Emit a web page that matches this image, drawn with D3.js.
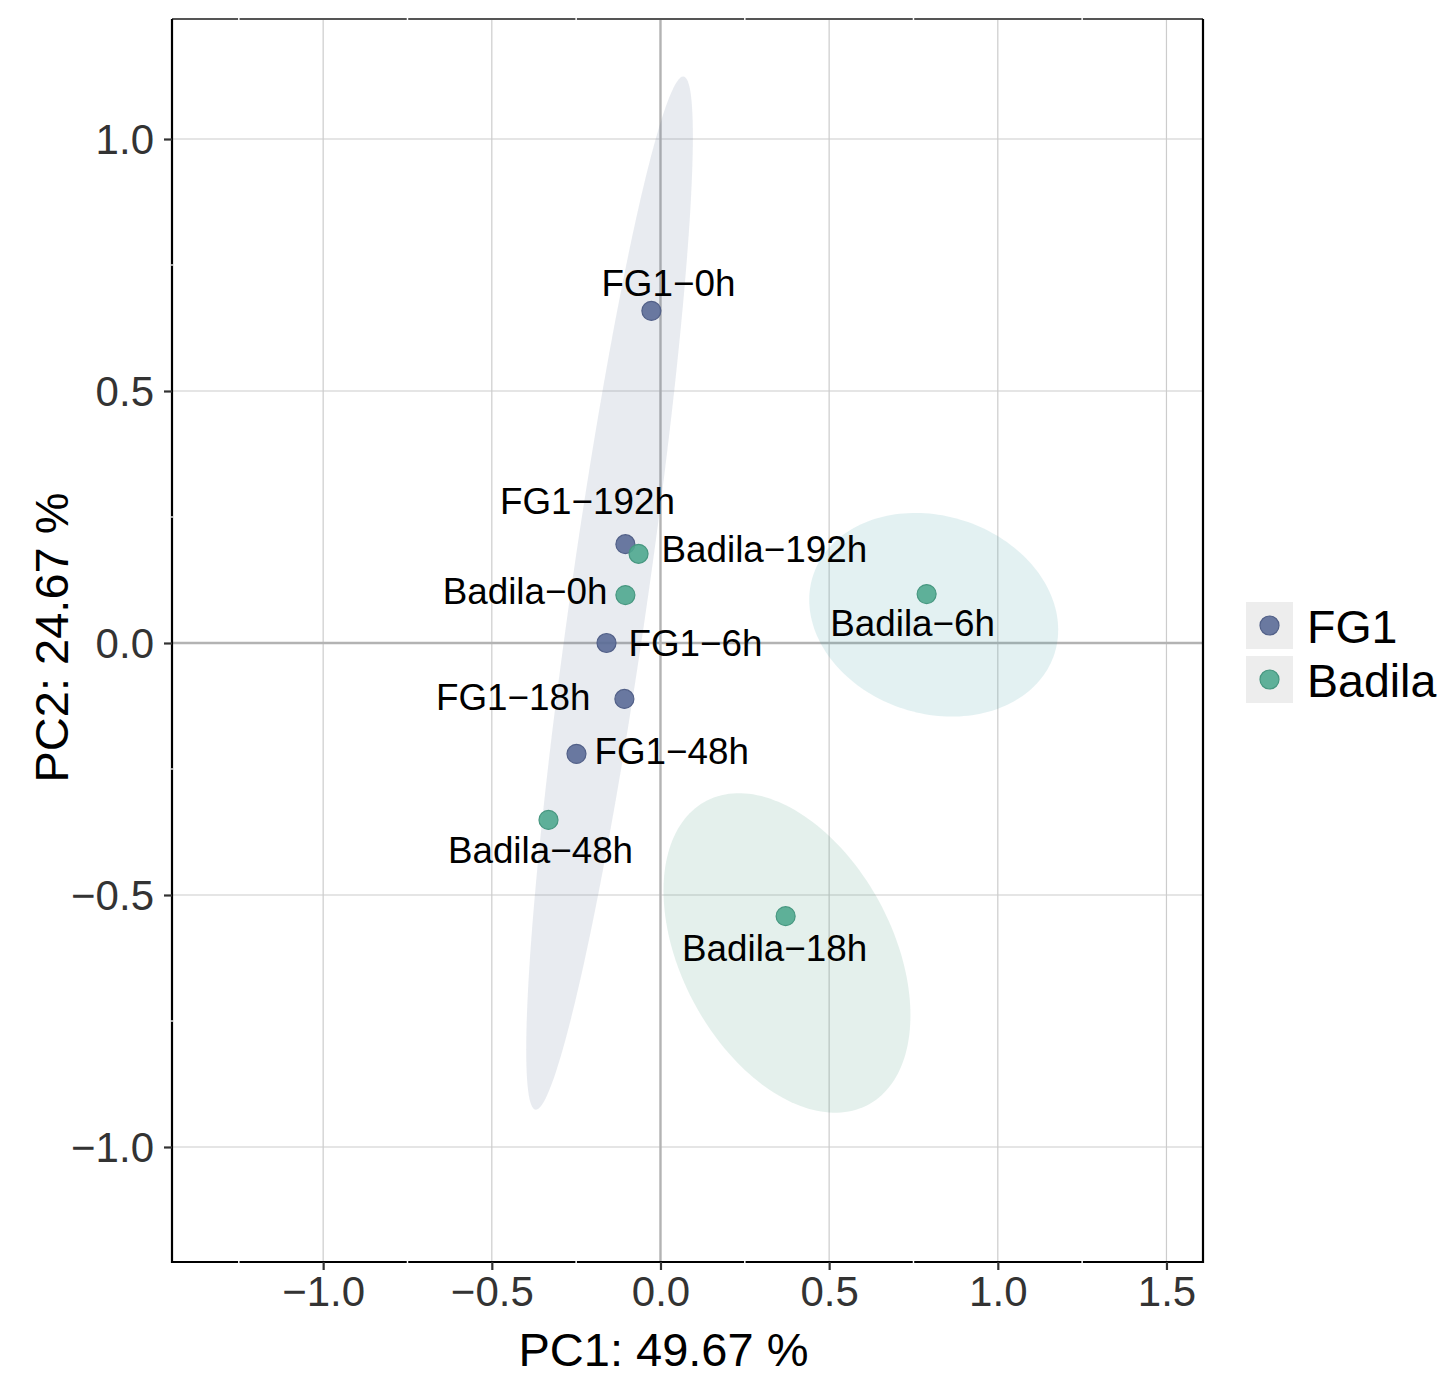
<!DOCTYPE html>
<html>
<head>
<meta charset="utf-8">
<script src="https://cdn.jsdelivr.net/npm/d3@7"></script>
<style>
  body { margin: 0; background: #fff; }
  svg { font-family: "Liberation Sans", Arial, Helvetica, sans-serif; }
</style>
</head>
<body>
<div id="chart"></div>
<script>
// samples and their PCA scores
const samples = ["FG1-0h", "FG1-192h", "FG1-6h", "FG1-18h", "FG1-48h",
                 "Badila-0h", "Badila-192h", "Badila-6h", "Badila-18h", "Badila-48h"];
const groups = ["FG1", "FG1", "FG1", "FG1", "FG1",
                "Badila", "Badila", "Badila", "Badila", "Badila"];
const pc1 = [-0.027, -0.104, -0.160, -0.107, -0.249, -0.104, -0.065, 0.789, 0.371, -0.332];
const pc2 = [0.659, 0.196, 0.000, -0.111, -0.220, 0.095, 0.177, 0.097, -0.542, -0.351];

const groupNames = ["FG1", "Badila"];
const xTicks = [-1.0, -0.5, 0.0, 0.5, 1.0, 1.5];
const yTicks = [-1.0, -0.5, 0.0, 0.5, 1.0];
const xMinor = [-1.25, -0.75, -0.25, 0.25, 0.75, 1.25];
const yMinor = [-0.75, -0.25, 0.25, 0.75];

// confidence ellipses: centre, half extents along PC1 / PC2 and correlation
const ellipseCx = [-0.151, 0.810, 0.375];
const ellipseCy = [0.099, 0.056, -0.615];
const ellipseSx = [0.247, 0.369, 0.366];
const ellipseSy = [1.025, 0.202, 0.317];
const ellipseR = [0.884, -0.147, -0.39];

const xTitle = "PC1: 49.67 %";
const yTitle = "PC2: 24.67 %";

const W = 1449, H = 1375;
const margin = {left: 172, right: 247, top: 19, bottom: 113};

const colors = {FG1: "#5b6b97", Badila: "#4fa88f"};
const ellipseFill = ["#667a9b", "#44a2a8", "#4b9b80"];

// where ggrepel put the labels, relative to the point
const labelPlace = [
  {anchor: "middle", dx: 17, dy: -15},
  {anchor: "middle", dx: -38, dy: -30},
  {anchor: "start", dx: 22, dy: 13},
  {anchor: "end", dx: -34, dy: 11},
  {anchor: "start", dx: 18, dy: 10},
  {anchor: "end", dx: -18, dy: 9},
  {anchor: "start", dx: 23, dy: 8},
  {anchor: "middle", dx: -14, dy: 42},
  {anchor: "middle", dx: -11, dy: 45},
  {anchor: "middle", dx: -8, dy: 43}
];

const x = d3.scaleLinear().domain([-1.4481, 1.6083]).range([margin.left, W - margin.right + 1]);
const y = d3.scaleLinear().domain([-1.2282, 1.2381]).range([H - margin.bottom, margin.top]);

const svg = d3.select("#chart").append("svg")
  .attr("width", W)
  .attr("height", H);

const x0 = x.range()[0], x1 = x.range()[1];
const y0 = y.range()[1], y1 = y.range()[0];

// grid
svg.append("g").selectAll("line")
  .data(xTicks.filter(d => d !== 0))
  .enter().append("line")
  .attr("x1", d => x(d)).attr("x2", d => x(d))
  .attr("y1", y0).attr("y2", y1)
  .attr("stroke", "#cccccc").attr("stroke-width", 1.2);

svg.append("g").selectAll("line")
  .data(yTicks.filter(d => d !== 0))
  .enter().append("line")
  .attr("y1", d => y(d)).attr("y2", d => y(d))
  .attr("x1", x0).attr("x2", x1)
  .attr("stroke", "#cccccc").attr("stroke-width", 1.2);

// zero lines
svg.append("line")
  .attr("x1", x(0)).attr("x2", x(0)).attr("y1", y0).attr("y2", y1)
  .attr("stroke", "#b3b3b3").attr("stroke-width", 2.4);
svg.append("line")
  .attr("y1", y(0)).attr("y2", y(0)).attr("x1", x0).attr("x2", x1)
  .attr("stroke", "#b3b3b3").attr("stroke-width", 2.4);

// ellipses
const ellipseLine = d3.line()
  .x(d => x(d[0]))
  .y(d => y(d[1]))
  .curve(d3.curveLinearClosed);

ellipseCx.forEach((cx, i) => {
  const pts = d3.range(0, 2 * Math.PI, Math.PI / 90).map(t => [
    cx + ellipseSx[i] * Math.cos(t),
    ellipseCy[i] + ellipseSy[i] * (ellipseR[i] * Math.cos(t) + Math.sqrt(1 - ellipseR[i] * ellipseR[i]) * Math.sin(t))
  ]);
  svg.append("path")
    .attr("d", ellipseLine(pts))
    .attr("fill", ellipseFill[i])
    .attr("fill-opacity", 0.15);
});

// points
const pointData = samples.map((s, i) => ({name: s, group: groups[i], x: pc1[i], y: pc2[i], place: labelPlace[i]}));

svg.append("g").selectAll("circle")
  .data(pointData)
  .enter().append("circle")
  .attr("cx", d => x(d.x))
  .attr("cy", d => y(d.y))
  .attr("r", 9.5)
  .attr("fill", d => colors[d.group])
  .attr("fill-opacity", 0.9)
  .attr("stroke", d => d3.color(colors[d.group]).darker(0.3))
  .attr("stroke-width", 1.2);

svg.append("g").selectAll("text")
  .data(pointData)
  .enter().append("text")
  .attr("x", d => x(d.x) + d.place.dx)
  .attr("y", d => y(d.y) + d.place.dy)
  .attr("text-anchor", d => d.place.anchor)
  .attr("font-size", 36.8)
  .attr("fill", "#000")
  .text(d => d.name.replace("-", "\u2212"));

// panel border
svg.append("line").attr("x1", x0).attr("x2", x1).attr("y1", y0).attr("y2", y0)
  .attr("stroke", "#555").attr("stroke-width", 2.2);
svg.append("rect")
  .attr("x", x0).attr("y", y0)
  .attr("width", x1 - x0).attr("height", y1 - y0)
  .attr("fill", "none")
  .attr("stroke", "#000").attr("stroke-width", 2.2)
  .attr("stroke-dasharray", `0 ${x1 - x0} ${(y1 - y0) + (x1 - x0) + (y1 - y0)}`);

// little white minor breaks on the border
svg.append("g").selectAll("line")
  .data(xMinor)
  .enter().append("line")
  .attr("x1", d => x(d)).attr("x2", d => x(d))
  .attr("y1", y0 - 1).attr("y2", y0 + 1)
  .attr("stroke", "#fff").attr("stroke-width", 1.5);
svg.append("g").selectAll("line")
  .data(xMinor)
  .enter().append("line")
  .attr("x1", d => x(d)).attr("x2", d => x(d))
  .attr("y1", y1 - 1).attr("y2", y1 + 1)
  .attr("stroke", "#fff").attr("stroke-width", 1.5);
svg.append("g").selectAll("line")
  .data(yMinor)
  .enter().append("line")
  .attr("y1", d => y(d)).attr("y2", d => y(d))
  .attr("x1", x0 - 1).attr("x2", x0 + 1)
  .attr("stroke", "#ddd").attr("stroke-width", 1.5);

// axes
const xAxis = svg.append("g")
  .attr("transform", `translate(0,${y1})`)
  .call(d3.axisBottom(x).tickValues(xTicks).tickFormat(d3.format(".1f")).tickSize(8).tickSizeOuter(0).tickPadding(6));
const yAxis = svg.append("g")
  .attr("transform", `translate(${x0},0)`)
  .call(d3.axisLeft(y).tickValues(yTicks).tickFormat(d3.format(".1f")).tickSize(8).tickSizeOuter(0).tickPadding(10));

[xAxis, yAxis].forEach(ax => {
  ax.select(".domain").remove();
  ax.selectAll(".tick line").attr("stroke", "#333").attr("stroke-width", 2.2);
  ax.selectAll(".tick text")
    .attr("font-size", 42)
    .attr("fill", "#333")
    .attr("font-family", "Liberation Sans, Arial, sans-serif");
});
yAxis.selectAll(".tick text").attr("dy", "0.35em");

// titles
svg.append("text")
  .attr("x", x(0) + 3)
  .attr("y", 1366)
  .attr("text-anchor", "middle")
  .attr("font-size", 47)
  .text(xTitle);

svg.append("text")
  .attr("transform", `translate(68,${(y0 + y1) / 2 - 3}) rotate(-90)`)
  .attr("text-anchor", "middle")
  .attr("font-size", 47)
  .text(yTitle);

// legend
const legend = svg.append("g").attr("transform", "translate(1246,602)");
const keySize = 47, keyGap = 7;
groupNames.forEach((g, i) => {
  const row = legend.append("g").attr("transform", `translate(0,${i * (keySize + keyGap)})`);
  row.append("rect")
    .attr("width", keySize).attr("height", keySize)
    .attr("fill", "#ededed");
  row.append("circle")
    .attr("cx", keySize / 2).attr("cy", keySize / 2)
    .attr("r", 9.5)
    .attr("fill", colors[g])
    .attr("fill-opacity", 0.9)
    .attr("stroke", d3.color(colors[g]).darker(0.3))
    .attr("stroke-width", 1.2);
  row.append("text")
    .attr("x", 61)
    .attr("y", keySize / 2 + 17)
    .attr("font-size", 46.5)
    .text(g);
});
</script>
</body>
</html>
